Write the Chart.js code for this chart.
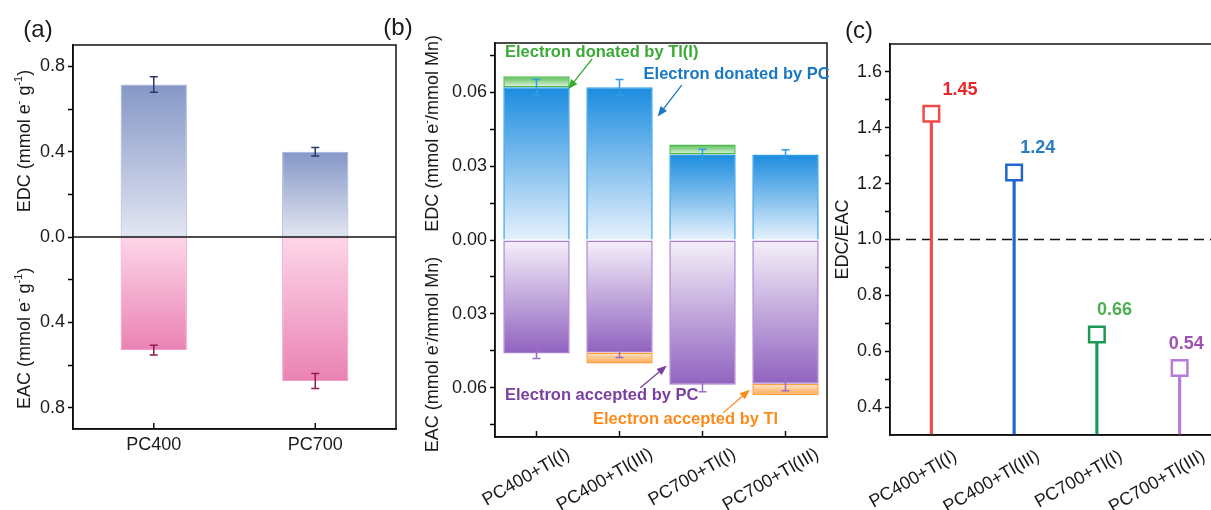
<!DOCTYPE html>
<html>
<head>
<meta charset="utf-8">
<script src="https://cdn.jsdelivr.net/npm/chart.js@4.4.1/dist/chart.umd.min.js"></script>
<style>
  html, body { margin: 0; padding: 0; background: #fff; overflow: hidden; }
  body { width: 1211px; height: 510px; position: relative; }
  canvas { position: absolute; top: 0; }
  #chartA { left: 0; }
  #chartB { left: 380px; }
  #chartC { left: 820px; }
</style>
</head>
<body>
<canvas id="chartA" width="400" height="510"></canvas>
<canvas id="chartB" width="450" height="510"></canvas>
<canvas id="chartC" width="420" height="510"></canvas>
<script>
// ---- (a) EDC / EAC of the two chars ----
const labelsA = ['PC400', 'PC700'];
const edcA = [0.715, 0.40];
const edcErrA = [0.036, 0.02];
const eacA = [-0.53, -0.675];
const eacErrA = [0.023, 0.035];
const yTicksA = [-0.8, -0.6, -0.4, -0.2, 0, 0.2, 0.4, 0.6, 0.8];
const yLabelsA = ['0.8', '', '0.4', '', '0.0', '', '0.4', '', '0.8'];

// ---- (b) split by PC / Tl ----
const labelsB = ['PC400+Tl(I)', 'PC400+Tl(III)', 'PC700+Tl(I)', 'PC700+Tl(III)'];
const edcPcB = [0.062, 0.062, 0.0347, 0.0347];
const edcTlB = [0.0045, null, 0.0041, null];
const eacPcB = [-0.0461, -0.0457, -0.0588, -0.0584];
const eacTlB = [null, -0.0045, null, -0.0045];
const edcErrB = [0.0032, 0.0032, 0.0022, 0.0020];
const eacErrB = [0.002, 0.002, 0.0028, 0.0028];
const yTicksB = [-0.075, -0.06, -0.045, -0.03, -0.015, 0, 0.015, 0.03, 0.045, 0.06, 0.075];
const yLabelsB = ['', '0.06', '', '0.03', '', '0.00', '', '0.03', '', '0.06', ''];

// ---- (c) EDC/EAC ratio ----
const labelsC = ['PC400+Tl(I)', 'PC400+Tl(III)', 'PC700+Tl(I)', 'PC700+Tl(III)'];
const ratioC = [1.45, 1.24, 0.66, 0.54];
const yTicksC = [0.4, 0.5, 0.6, 0.7, 0.8, 0.9, 1.0, 1.1, 1.2, 1.3, 1.4, 1.5, 1.6];
const yLabelsC = ['0.4', '', '0.6', '', '0.8', '', '1.0', '', '1.2', '', '1.4', '', '1.6'];

const FONT = '"Liberation Sans", Arial, sans-serif';
Chart.defaults.font.family = FONT;
Chart.defaults.color = '#1a1a1a';

// gradient for each bar segment: dark at the far end, light near its base
function grad(farColor, nearColor, baseArr) {
  return function (c) {
    const chart = c.chart;
    if (!chart.chartArea || c.raw == null) return farColor;
    const b = baseArr ? baseArr[c.dataIndex] : 0;
    const ys = chart.scales.y;
    const y0 = ys.getPixelForValue(b);
    const y1 = ys.getPixelForValue(b + c.raw);
    const g = chart.ctx.createLinearGradient(0, y1, 0, y0);
    g.addColorStop(0, farColor);
    g.addColorStop(1, nearColor);
    return g;
  };
}

function yAxis(min, max, tickVals, tickLabels, width) {
  return {
    min: min, max: max, stacked: true,
    afterFit: function (s) { s.width = width; },
    afterBuildTicks: function (s) { s.ticks = tickVals.map(v => ({ value: v })); },
    ticks: { callback: (v, i) => tickLabels[i], font: { size: 18 }, padding: 3, autoSkip: false, color: '#1a1a1a' },
    grid: { drawOnChartArea: false, tickLength: 5, tickWidth: 1.5, tickColor: '#000' },
    border: { display: true, color: '#000', width: 1.5 }
  };
}

function drawRich(ctx, parts, x, y, size) {
  ctx.save();
  ctx.translate(x, y);
  ctx.rotate(-Math.PI / 2);
  const big = size + 'px ' + FONT;
  const small = Math.round(size * 0.62) + 'px ' + FONT;
  let total = 0;
  parts.forEach(p => { ctx.font = p.sup ? small : big; total += ctx.measureText(p.t).width; });
  let cx = -total / 2;
  ctx.fillStyle = '#1a1a1a';
  ctx.textAlign = 'left';
  ctx.textBaseline = 'middle';
  parts.forEach(p => {
    ctx.font = p.sup ? small : big;
    ctx.fillText(p.t, cx, p.sup ? -size * 0.35 : 0);
    cx += ctx.measureText(p.t).width;
  });
  ctx.restore();
}

function arrow(ctx, x1, y1, x2, y2, color) {
  const a = Math.atan2(y2 - y1, x2 - x1);
  ctx.save();
  ctx.strokeStyle = color;
  ctx.fillStyle = color;
  ctx.lineWidth = 1.3;
  ctx.beginPath();
  ctx.moveTo(x1, y1);
  ctx.lineTo(x2 - 6 * Math.cos(a), y2 - 6 * Math.sin(a));
  ctx.stroke();
  ctx.beginPath();
  ctx.moveTo(x2, y2);
  ctx.lineTo(x2 - 10 * Math.cos(a) + 4 * Math.sin(a), y2 - 10 * Math.sin(a) - 4 * Math.cos(a));
  ctx.lineTo(x2 - 10 * Math.cos(a) - 4 * Math.sin(a), y2 - 10 * Math.sin(a) + 4 * Math.cos(a));
  ctx.closePath();
  ctx.fill();
  ctx.restore();
}

// frame, zero / dashed lines, inward x ticks, error bars
const deco = {
  id: 'deco',
  beforeDatasetsDraw(chart, args, o) {
    const ctx = chart.ctx, a = chart.chartArea;
    if (o.dashAt != null) {
      const y = chart.scales.y.getPixelForValue(o.dashAt);
      ctx.save();
      ctx.strokeStyle = '#111';
      ctx.lineWidth = 1.5;
      ctx.setLineDash([10, 6]);
      ctx.beginPath();
      ctx.moveTo(a.left, y);
      ctx.lineTo(a.right, y);
      ctx.stroke();
      ctx.restore();
    }
  },
  afterDatasetsDraw(chart, args, o) {
    const ctx = chart.ctx, a = chart.chartArea, ys = chart.scales.y, xs = chart.scales.x;
    chart.data.datasets.forEach((ds, i) => {
      if (!ds.errors) return;
      const meta = chart.getDatasetMeta(i);
      meta.data.forEach((bar, j) => {
        const e = ds.errors[j];
        if (e == null) return;
        const v = ds.data[j];
        const t = ys.getPixelForValue(v + e), b = ys.getPixelForValue(v - e);
        ctx.save();
        ctx.strokeStyle = ds.errorColor;
        ctx.lineWidth = 1.5;
        ctx.beginPath();
        ctx.moveTo(bar.x, t); ctx.lineTo(bar.x, b);
        ctx.moveTo(bar.x - 4, t); ctx.lineTo(bar.x + 4, t);
        ctx.moveTo(bar.x - 4, b); ctx.lineTo(bar.x + 4, b);
        ctx.stroke();
        ctx.restore();
      });
    });
    ctx.save();
    ctx.strokeStyle = '#111';
    ctx.lineWidth = 1.5;
    if (o.zeroLine) {
      const y = ys.getPixelForValue(0);
      ctx.beginPath(); ctx.moveTo(a.left, y); ctx.lineTo(a.right, y); ctx.stroke();
    }
    if (o.xTicksIn) {
      xs.ticks.forEach((t, i) => {
        const x = xs.getPixelForTick(i);
        ctx.beginPath(); ctx.moveTo(x, a.bottom); ctx.lineTo(x, a.bottom - 6); ctx.stroke();
      });
    }
    ctx.strokeRect(a.left, a.top, a.right - a.left, a.bottom - a.top);
    ctx.restore();
  },
  afterDraw(chart, args, o) {
    const ctx = chart.ctx, a = chart.chartArea, ys = chart.scales.y, xs = chart.scales.x;
    if (o.panel) {
      ctx.save();
      ctx.font = '24px ' + FONT;
      ctx.fillStyle = '#1a1a1a';
      ctx.textAlign = 'center';
      ctx.textBaseline = 'middle';
      ctx.fillText(o.panel.text, o.panel.x, o.panel.y);
      ctx.restore();
    }
    (o.yTitles || []).forEach(t => drawRich(ctx, t.parts, t.x, ys.getPixelForValue(t.value), 18));
    if (o.slant) {
      ctx.save();
      ctx.font = '18px ' + FONT;
      ctx.fillStyle = '#1a1a1a';
      ctx.textAlign = 'right';
      ctx.textBaseline = 'middle';
      chart.data.labels.forEach((lab, i) => {
        ctx.save();
        ctx.translate(xs.getPixelForValue(i) + o.slant.dx, a.bottom + o.slant.dy);
        ctx.rotate(-Math.PI / 6);
        ctx.fillText(lab, 0, 0);
        ctx.restore();
      });
      ctx.restore();
    }
    (o.notes || []).forEach(n => {
      ctx.save();
      ctx.font = 'bold 16.5px ' + FONT;
      ctx.fillStyle = n.color;
      ctx.textAlign = 'left';
      ctx.textBaseline = 'middle';
      ctx.fillText(n.text, xs.getPixelForValue(n.at[0]), ys.getPixelForValue(n.at[1]));
      ctx.restore();
      arrow(ctx, xs.getPixelForValue(n.from[0]), ys.getPixelForValue(n.from[1]),
        xs.getPixelForValue(n.to[0]), ys.getPixelForValue(n.to[1]), n.color);
    });
    if (o.values) {
      const meta = chart.getDatasetMeta(0);
      ctx.save();
      ctx.font = 'bold 18px ' + FONT;
      ctx.textAlign = 'left';
      ctx.textBaseline = 'alphabetic';
      meta.data.forEach((pt, i) => {
        ctx.fillStyle = o.values.colors[i];
        ctx.fillText(chart.data.datasets[0].data[i].toFixed(2), pt.x + o.values.dx[i], pt.y - 19);
      });
      ctx.restore();
    }
  }
};

const baseOpts = {
  responsive: false,
  animation: false,
  events: []
};

// ---------- (a) ----------
new Chart(document.getElementById('chartA'), {
  type: 'bar',
  data: {
    labels: labelsA,
    datasets: [
      { label: 'EDC', data: edcA, errors: edcErrA, errorColor: '#2b3a67',
        backgroundColor: grad('#8597c7', '#e3e6f2'), borderColor: '#a3b1d6', borderWidth: 1,
        borderSkipped: false, barPercentage: 0.41, categoryPercentage: 1 },
      { label: 'EAC', data: eacA, errors: eacErrA, errorColor: '#8f1c52',
        backgroundColor: grad('#ea82b3', '#fdd6e8'), borderColor: '#f29cc6', borderWidth: 1,
        borderSkipped: false, barPercentage: 0.41, categoryPercentage: 1 }
    ]
  },
  options: Object.assign({}, baseOpts, {
    layout: { padding: { top: 45, right: 4, left: 0, bottom: 0 } },
    plugins: {
      legend: { display: false }, tooltip: { enabled: false },
      deco: {
        zeroLine: true, xTicksIn: true,
        panel: { text: '(a)', x: 38, y: 30 },
        yTitles: [
          { parts: [{ t: 'EDC (mmol e' }, { t: '-', sup: true }, { t: ' g' }, { t: '-1', sup: true }, { t: ')' }], x: 25, value: 0.45 },
          { parts: [{ t: 'EAC (mmol e' }, { t: '-', sup: true }, { t: ' g' }, { t: '-1', sup: true }, { t: ')' }], x: 25, value: -0.475 }
        ]
      }
    },
    scales: {
      x: { stacked: true, afterFit: s => { s.height = 81; },
           grid: { display: false, drawTicks: false },
           border: { display: true, color: '#000', width: 1.5 },
           ticks: { font: { size: 18 }, padding: 5, color: '#1a1a1a' } },
      y: yAxis(-0.9, 0.9, yTicksA, yLabelsA, 73)
    }
  }),
  plugins: [deco]
});

// ---------- (b) ----------
new Chart(document.getElementById('chartB'), {
  type: 'bar',
  data: {
    labels: labelsB,
    datasets: [
      { label: 'EDC by PC', data: edcPcB, errors: edcErrB, errorColor: '#2d9ee6',
        backgroundColor: grad('#1b8cdf', '#e6f1fc'), borderColor: '#2d9ee6', borderWidth: 1.5,
        borderSkipped: 'start' },
      { label: 'EDC by Tl', data: edcTlB,
        backgroundColor: grad('#52bb50', '#e6f6e4', edcPcB), borderColor: '#4cb84a', borderWidth: 1.5,
        borderSkipped: false },
      { label: 'EAC by PC', data: eacPcB, errors: eacErrB, errorColor: '#9a6cc8',
        backgroundColor: grad('#9062bf', '#f5f0fa'), borderColor: '#a67ed0', borderWidth: 1.5,
        borderSkipped: false },
      { label: 'EAC by Tl', data: eacTlB,
        backgroundColor: grad('#ffa54f', '#ffe7cf', eacPcB), borderColor: '#ffa040', borderWidth: 1.5,
        borderSkipped: false }
    ].map(d => Object.assign(d, { barPercentage: 0.8, categoryPercentage: 1 }))
  },
  options: Object.assign({}, baseOpts, {
    layout: { padding: { top: 43, right: 3, left: 0, bottom: 0 } },
    plugins: {
      legend: { display: false }, tooltip: { enabled: false },
      deco: {
        xTicksIn: true,
        panel: { text: '(b)', x: 18, y: 28 },
        slant: { dx: 32, dy: 16 },
        yTitles: [
          { parts: [{ t: 'EDC (mmol e' }, { t: '-', sup: true }, { t: '/mmol Mn)' }], x: 53, value: 0.0433 },
          { parts: [{ t: 'EAC (mmol e' }, { t: '-', sup: true }, { t: '/mmol Mn)' }], x: 53, value: -0.0465 }
        ],
        notes: [
          { text: 'Electron donated by Tl(I)', color: '#3aaa35', at: [-0.38, 0.0763], from: [0.67, 0.0735], to: [0.38, 0.0612] },
          { text: 'Electron donated by PC', color: '#1a78c2', at: [1.29, 0.0673], from: [1.75, 0.0629], to: [1.46, 0.0502] },
          { text: 'Electron accepted by PC', color: '#7b3fa0', at: [-0.38, -0.0633], from: [1.25, -0.06], to: [1.57, -0.051] },
          { text: 'Electron accepted by Tl', color: '#ff8a1c', at: [0.68, -0.0727], from: [2.25, -0.0702], to: [2.57, -0.0608] }
        ]
      }
    },
    scales: {
      x: { stacked: true, afterFit: s => { s.height = 73; },
           grid: { display: false, drawTicks: false },
           border: { display: true, color: '#000', width: 1.5 },
           ticks: { display: false } },
      y: yAxis(-0.08, 0.08, yTicksB, yLabelsB, 115)
    }
  }),
  plugins: [deco]
});

// ---------- (c) ----------
const stemColors = ['#f24a4a', '#1f66d1', '#1b9a55', '#b67ad9'];
new Chart(document.getElementById('chartC'), {
  type: 'bar',
  data: {
    labels: labelsC,
    datasets: [
      { type: 'line', label: 'EDC/EAC', data: ratioC, showLine: false, pointStyle: 'rect',
        pointRadius: 11, pointBorderWidth: 2.5, pointBackgroundColor: '#fff',
        pointBorderColor: stemColors, order: 0 },
      { type: 'bar', label: 'stem', data: ratioC, backgroundColor: stemColors,
        barThickness: 2.5, order: 1 }
    ]
  },
  options: Object.assign({}, baseOpts, {
    layout: { padding: { top: 44, right: 19, left: 0, bottom: 0 } },
    plugins: {
      legend: { display: false }, tooltip: { enabled: false },
      deco: {
        dashAt: 1.0,
        panel: { text: '(c)', x: 39, y: 31 },
        slant: { dx: 24, dy: 20 },
        yTitles: [{ parts: [{ t: 'EDC/EAC' }], x: 23, value: 1.0 }],
        values: { colors: ['#e8262c', '#2a7cc0', '#4caf50', '#a052b2'], dx: [11, 6, 0, -11] }
      }
    },
    scales: {
      x: { afterFit: s => { s.height = 75; },
           grid: { display: false, drawTicks: false },
           border: { display: true, color: '#000', width: 1.5 },
           ticks: { display: false } },
      y: Object.assign(yAxis(0.3, 1.7, yTicksC, yLabelsC, 70), { stacked: false })
    }
  }),
  plugins: [deco]
});
</script>
</body>
</html>
